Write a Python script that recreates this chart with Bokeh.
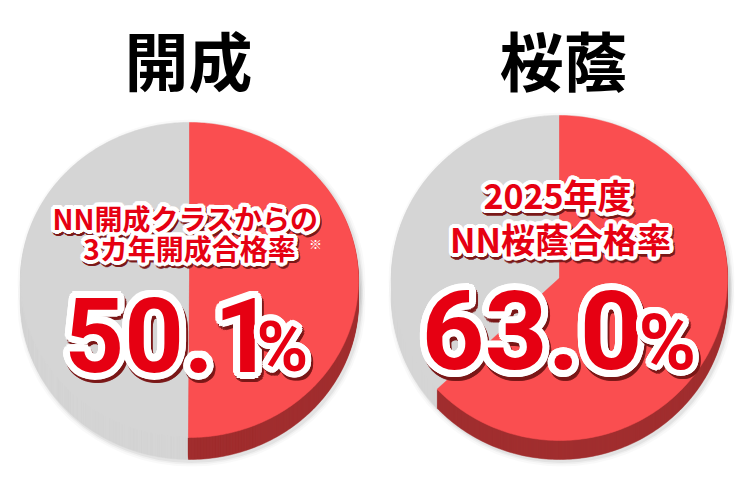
import numpy as np
from bokeh.plotting import figure
from bokeh.models import Range1d, ColumnDataSource
from bokeh.core.properties import value
from bokeh.embed import file_html
from bokeh.resources import INLINE

# ---------------- data ----------------
schools = ["開成", "桜蔭"]
pass_rates = [50.1, 63.0]                 # percent of pie that is red
rate_text = ["50.1", "63.0"]
pct_sign = "%"
caption_line1 = ["NN開成クラスからの", "2025年度"]
caption_line2 = ["3カ年開成合格率", "NN桜蔭合格率"]
note_mark = "※"

# ---------------- layout (pixel coordinates, y downwards) ----------------
pie_cx = [189, 559]
pie_cy = [279.5, 277.5]
pie_rx = [169, 168]
pie_ry = [157.5, 162.5]
pie_depth = [22, 19]
title_x = [188, 563]
title_y = [57, 57]
cap1_xy = [(185, 217), (557, 194)]
cap2_xy = [(189, 247), (560, 238)]
cap_size = [28, 34]
BASE_SHIFT = 0.365          # baseline correction (em) for the renderer
num_x = [64, 421]
num_bottom = [372, 370]
num_size = [104, 110]
pct_x = [256, 638]
pct_size = [70, 78]
note_xy = (315, 243)

RED_FACE = "#FA4E50"
RED_SIDE = "#A12E2F"
GREY = "#D5D5D5"
TXT_RED = "#E60012"
TXT_SHADOW = "#7A1818"

W, H = 742, 482
p = figure(width=W, height=H, x_range=Range1d(0, W), y_range=Range1d(H, 0),
           output_backend="svg", toolbar_location=None, min_border=0,
           x_axis_type=None, y_axis_type=None)
p.grid.visible = False
p.outline_line_color = None
p.background_fill_color = "white"
p.border_fill_color = "white"


def wedge_poly(cx, cy, rx, ry, f0, f1, n=360):
    m = max(int(n * (f1 - f0)), 8)
    t = 2 * np.pi * np.linspace(f0, f1, m)
    xs = np.concatenate([[cx], cx + rx * np.sin(t)])
    ys = np.concatenate([[cy], cy - ry * np.cos(t)])
    return xs, ys


# soft shadow around pies
for i in range(2):
    for k, a in [(10, 0.025), (6, 0.035), (3, 0.05)]:
        p.ellipse(x=[pie_cx[i] + 2, pie_cx[i] + 2], y=[pie_cy[i] + 2, pie_cy[i] + pie_depth[i] + 2],
                  width=2 * pie_rx[i] + k, height=2 * pie_ry[i] + k,
                  fill_color="black", fill_alpha=a, line_color=None)

side_x, side_y, side_c = [], [], []
face_x, face_y, face_c = [], [], []
for i in range(2):
    f = pass_rates[i] / 100.0
    slices = [(f, 1.0, GREY, GREY), (0.0, f, RED_FACE, RED_SIDE)]
    for f0, f1, fc, sc in slices:
        xs, ys = wedge_poly(pie_cx[i], pie_cy[i], pie_rx[i], pie_ry[i], f0, f1)
        for d in range(pie_depth[i], 0, -1):
            side_x.append(xs)
            side_y.append(ys + d)
            side_c.append(sc)
        face_x.append(xs)
        face_y.append(ys)
        face_c.append(fc)

p.patches(xs=side_x, ys=side_y, fill_color=side_c, line_color=side_c, line_width=0.5)
p.patches(xs=face_x, ys=face_y, fill_color=face_c, line_color=face_c, line_width=0.5)


def outlined(x, y, txt, size, font, align, baseline, stroke, sdx, sdy):
    angles = np.linspace(0, 2 * np.pi, 24, endpoint=False)
    ring = [(stroke * np.cos(a), stroke * np.sin(a)) for a in angles]
    ring += [(0.5 * stroke * np.cos(a), 0.5 * stroke * np.sin(a)) for a in angles[::2]]
    n = len(ring)
    common = dict(text_font=value(font), text_font_size=f"{size}px", text_font_style="bold",
                  text_align=align, text_baseline=baseline)
    sh = ColumnDataSource(dict(x=[x] * n, y=[y] * n, t=[txt] * n,
                               xo=[a + sdx for a, b in ring], yo=[b + sdy for a, b in ring]))
    p.text(x="x", y="y", text="t", x_offset="xo", y_offset="yo", source=sh,
           text_color=TXT_SHADOW, text_alpha=0.8, **common)
    wh = ColumnDataSource(dict(x=[x] * n, y=[y] * n, t=[txt] * n,
                               xo=[a for a, b in ring], yo=[b for a, b in ring]))
    p.text(x="x", y="y", text="t", x_offset="xo", y_offset="yo", source=wh,
           text_color="white", **common)
    p.text(x=[x], y=[y], text=[txt], text_color=TXT_RED, **common)


JP = "Noto Sans CJK JP"
NUM = "Roboto"

# titles
p.text(x=title_x, y=title_y, text=schools, text_font=value(JP), text_font_size="64px",
       text_font_style="bold", text_color="black", text_align="center", text_baseline="middle")

for i in range(2):
    outlined(cap1_xy[i][0], cap1_xy[i][1], caption_line1[i], cap_size[i], JP, "center", "middle", 4, 1.5, 2.5)
    outlined(cap2_xy[i][0], cap2_xy[i][1], caption_line2[i], cap_size[i], JP, "center", "middle", 4, 1.5, 2.5)
    outlined(num_x[i], num_bottom[i] - BASE_SHIFT * num_size[i], rate_text[i], num_size[i], NUM,
             "left", "alphabetic", 7, 2, 3.5)
    outlined(pct_x[i], num_bottom[i] - BASE_SHIFT * pct_size[i], pct_sign, pct_size[i], NUM,
             "left", "alphabetic", 6, 2, 3.5)

p.text(x=[note_xy[0]], y=[note_xy[1]], text=[note_mark], text_font=value(JP), text_font_size="13px",
       text_color="white", text_align="center", text_baseline="middle")

open("out.html", "w").write(file_html(p, INLINE))
